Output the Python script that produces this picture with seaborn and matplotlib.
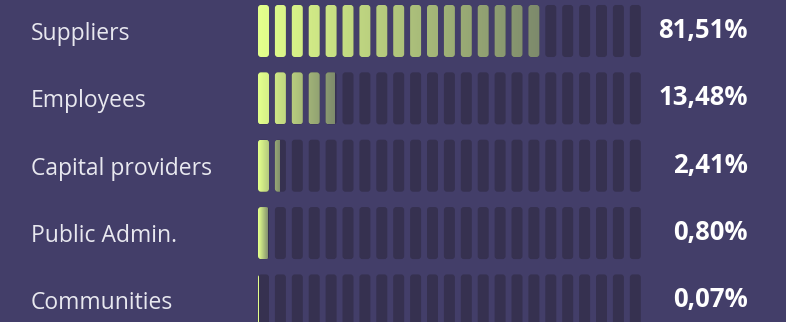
import numpy as np
import pandas as pd
import seaborn as sns
import matplotlib.pyplot as plt
from matplotlib.patches import FancyBboxPatch
from matplotlib.path import Path
from matplotlib.colors import LinearSegmentedColormap

categories = ["Suppliers", "Employees", "Capital providers", "Public Admin.", "Communities"]
shares = [81.51, 13.48, 2.41, 0.80, 0.07]
share_labels = ["81,51%", "13,48%", "2,41%", "0,80%", "0,07%"]

bg = "#433e69"
seg_bg = "#363150"
cmap = LinearSegmentedColormap.from_list("lime", ["#e3ff8c", "#7d8a6c"])
n_seg = 23
power = 0.72

sns.set_theme(style="dark")
plt.rcParams["font.family"] = ["Open Sans", "DejaVu Sans"]

df = pd.DataFrame({"category": categories, "share": shares})

fig = plt.figure(figsize=(7.86, 3.22), dpi=100, facecolor=bg)
ax = fig.add_axes([258 / 786, 0, 384 / 786, 1])
ax.set_facecolor(bg)

bar_h = 52 / 67.3
sns.barplot(data=df, x="share", y="category", orient="h", width=bar_h,
            color=cmap(0.0), ax=ax)
bars = list(ax.patches)

# compressed scale so the small shares stay visible
ax.set_xscale("function", functions=(
    lambda v: np.power(np.clip(v, 0, None), power),
    lambda u: np.power(np.clip(u, 0, None), 1 / power)))

# background segments (x in axes fraction, y in data)
trans = ax.get_yaxis_transform()
pitch = 16.9 / 384
seg_w = 11 / 384
rx = 3 / 384
aspect = (3 / 67.3) / rx
paths = []
for row in range(len(categories)):
    for i in range(n_seg):
        p = FancyBboxPatch((i * pitch, row - bar_h / 2), seg_w, bar_h,
                           boxstyle=f"round,pad=0,rounding_size={rx}",
                           mutation_aspect=aspect, transform=trans,
                           fc=seg_bg, ec="none", zorder=1)
        ax.add_patch(p)
        paths.append(p.get_path())
seg_clip = Path.make_compound_path(*paths)

# gradient fill, cut into the segments
t = np.linspace(0, 1, 256) ** power
for bar in bars:
    bar.set_visible(False)
    x0, w = bar.get_x(), bar.get_width()
    y0, h = bar.get_y(), bar.get_height()
    im = ax.imshow(t[None, :], cmap=cmap, extent=(x0, x0 + w, y0 + h, y0),
                   aspect="auto", interpolation="bilinear", zorder=2)
    im.set_clip_path(seg_clip, transform=trans)

ax.set_xlim(0, 125)
ax.set_ylim(4.32, -0.46)

for row, lab in enumerate(share_labels):
    ax.text(1.275, row - 0.01, lab, transform=trans, ha="right", va="center",
            fontsize=18.5, fontweight="bold", color="white", clip_on=False)

ax.set_xlabel("")
ax.set_ylabel("")
ax.set_xticks([])
ax.tick_params(axis="y", length=0, pad=163.4, labelsize=16.5, labelcolor="#e8e8ef")
plt.setp(ax.get_yticklabels(), ha="left")
for s in ax.spines.values():
    s.set_visible(False)

fig.savefig("out.png", dpi=100, facecolor=bg)
